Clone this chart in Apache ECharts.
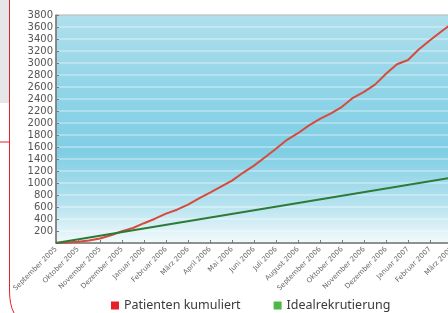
<!DOCTYPE html>
<html>
<head>
<meta charset="utf-8">
<script src="https://cdn.jsdelivr.net/npm/echarts@6/dist/echarts.min.js"></script>
<style>
  html,body{margin:0;padding:0;background:#fff;}
  #chart{width:448px;height:313px;}
</style>
</head>
<body>
<div id="chart"></div>
<script>
// Monatsachse, Index 0 = September 2005
var months = ['September 2005','Oktober 2005','November 2005','Dezember 2005','Januar 2006','Februar 2006',
  'März 2006','April 2006','Mai 2006','Juni 2006','Juli 2006','August 2006','September 2006',
  'Oktober 2006','November 2006','Dezember 2006','Januar 2007','Februar 2007','März 2007'];

var patX = [0,0.5,1,1.5,2,2.5,3,3.5,4,4.5,5,5.5,6,6.5,7,7.5,8,8.5,9,9.5,10,10.5,11,11.5,12,12.5,13,13.5,14,14.5,15,15.5,16,16.5,17,17.5,18,18.5];
var patY = [0,8,20,40,75,130,195,250,330,405,490,555,640,745,840,940,1040,1170,1290,1430,1570,1720,1830,1960,2070,2160,2270,2420,2520,2640,2820,2980,3050,3230,3380,3520,3660,3770];

// Idealrekrutierung
var idealX = [0, 19];
var idealY = [0, 1150];

var chart = echarts.init(document.getElementById('chart'));

function pairs(xs, ys){
  var out = [];
  for (var i = 0; i < xs.length; i++) out.push([xs[i], ys[i]]);
  return out;
}

chart.setOption({
  animation: false,
  graphic: [
    {type:'rect', shape:{x:0,y:0,width:9,height:103}, style:{fill:'#e5e6e8'}, silent:true},
    {type:'line', shape:{x1:0,y1:142,x2:9,y2:142}, style:{stroke:'#e8202a',lineWidth:1}},
    {type:'line', shape:{x1:9.5,y1:0,x2:9.5,y2:290}, style:{stroke:'#e8202a',lineWidth:1}},
    {type:'bezierCurve', shape:{x1:9.5,y1:290,cpx1:9.5,cpy1:305,x2:14,y2:313}, style:{stroke:'#e8202a',lineWidth:1,fill:null}}
  ],
  grid: {
    left: 56, top: 15, bottom: 70, width: 418,
    outerBoundsMode: 'none',
    containLabel: false,
    show: true,
    borderWidth: 1,
    borderColor: '#8a8a8a',
    backgroundColor: {
      type:'linear', x:0, y:0, x2:0, y2:1,
      colorStops:[
        {offset:0, color:'#b0dfec'},
        {offset:0.3, color:'#93d5e8'},
        {offset:0.6, color:'#80cee4'},
        {offset:0.83, color:'#b6e3ef'},
        {offset:1, color:'#f3fafc'}
      ]
    }
  },
  legend: {
    top: 299,
    left: 111,
    padding: 0,
    icon: 'rect',
    itemWidth: 8,
    itemHeight: 8,
    itemGap: 33,
    textStyle: {color:'#3a3a3a', fontSize:12.5, fontFamily:'Noto Sans'},
    data: [
      {name:'Patienten kumuliert', itemStyle:{color:'#e8202a'}},
      {name:'Idealrekrutierung', itemStyle:{color:'#4db848'}}
    ]
  },
  xAxis: {
    type: 'value',
    min: 0, max: 19, interval: 1,
    axisLine: {lineStyle:{color:'#7a7a7a', width:1.5}},
    axisTick: {inside:true, length:3, lineStyle:{color:'#7a7a7a'}},
    splitLine: {show:false},
    axisLabel: {
      rotate: 45, margin: 5,
      fontSize: 7, color: '#666', fontFamily: 'DejaVu Sans',
      formatter: function (v) { return months[v] || ''; }
    }
  },
  yAxis: {
    type: 'value',
    min: 0, max: 3800, interval: 200,
    axisLine: {show:true, lineStyle:{color:'#7a7a7a', width:1.5}},
    axisTick: {show:true, inside:true, length:3, lineStyle:{color:'#7a7a7a'}},
    splitLine: {show:true, lineStyle:{color:'rgba(255,255,255,0.3)', width:2}},
    axisLabel: {
      margin: 3, fontSize: 10, color: '#555', fontFamily: 'DejaVu Sans',
      formatter: function (v) { return v === 0 ? '' : v; }
    }
  },
  series: [
    {
      name: 'Patienten kumuliert',
      type: 'line',
      showSymbol: false,
      data: pairs(patX, patY),
      lineStyle: {color:'#d84a3c', width:2},
      itemStyle: {color:'#d84a3c'}
    },
    {
      name: 'Idealrekrutierung',
      type: 'line',
      showSymbol: false,
      data: pairs(idealX, idealY),
      lineStyle: {color:'#2c7a36', width:2},
      itemStyle: {color:'#2c7a36'}
    }
  ]
});
</script>
</body>
</html>
